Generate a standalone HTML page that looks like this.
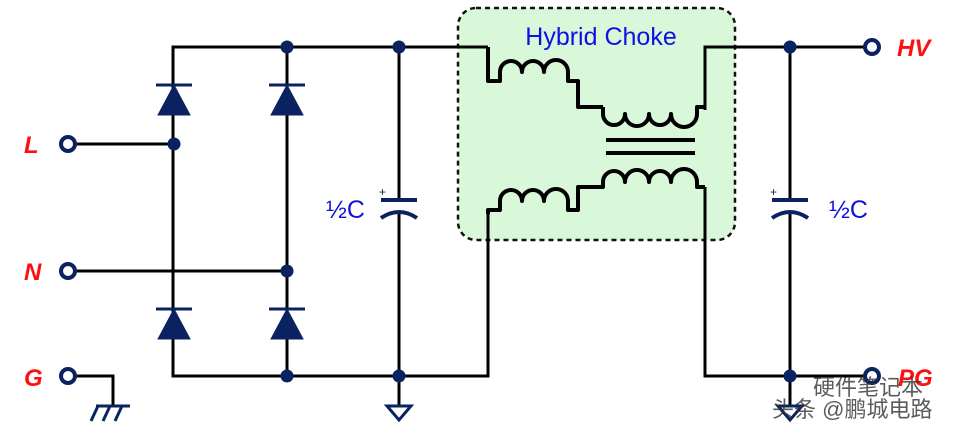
<!DOCTYPE html>
<html><head><meta charset="utf-8"><style>
html,body{margin:0;padding:0;background:#fff;width:962px;height:431px;overflow:hidden}
</style></head><body>
<svg width="962" height="431" viewBox="0 0 962 431" xmlns="http://www.w3.org/2000/svg">
<rect x="458" y="8" width="277" height="232" rx="18" fill="#d9f7d9" stroke="#111" stroke-width="2.5" stroke-dasharray="5,4"/>
<text x="601" y="45" font-family="Liberation Sans, sans-serif" font-size="25" fill="#1010e0" text-anchor="middle">Hybrid Choke</text>
<g fill="none" stroke="#000" stroke-width="3">
<polyline points="173,115 173,47 488,47"/>
<line x1="287" y1="47" x2="287" y2="115"/>
<line x1="173" y1="115" x2="173" y2="339"/>
<line x1="287" y1="115" x2="287" y2="339"/>
<polyline points="173,339 173,376 488,376 488,214"/>
<line x1="287" y1="339" x2="287" y2="376"/>
<line x1="75" y1="144" x2="173" y2="144"/>
<line x1="75" y1="271" x2="287" y2="271"/>
<polyline points="75,376 113,376 113,406"/>
<line x1="399" y1="47" x2="399" y2="200"/>
<line x1="399" y1="212" x2="399" y2="406"/>
<polyline points="705,187 705,376 872,376"/>
<polyline points="705,110 705,47 872,47"/>
<line x1="790" y1="47" x2="790" y2="200"/>
<line x1="790" y1="212" x2="790" y2="406"/>
</g>
<g fill="none" stroke="#000" stroke-width="4" stroke-linejoin="round">
<path d="M488,47 V81 H500 V72 a11,11 0 0 1 22,0 a11,11 0 0 1 22,0 a12,12 0 0 1 24,0 V81 H578 V107 H603"/>
<path d="M603,107 V114 a11,11 0 0 0 22,0 a12,12 0 0 0 24,0 a11,11 0 0 0 22,0 a13,13 0 0 0 26,0 V107 H705"/>
<path d="M488,214 V210 H500 V201 a11,11 0 0 1 22,0 a11,11 0 0 1 22,0 a12,12 0 0 1 24,0 V210 H578 V187 H603 V182 a11,11 0 0 1 22,0 a12,12 0 0 1 24,0 a11,11 0 0 1 22,0 a13,13 0 0 1 26,0 V187 H705"/>
</g>
<g stroke="#000" stroke-width="4"><line x1="606" y1="140" x2="695" y2="140"/><line x1="606" y1="153" x2="695" y2="153"/></g>
<g fill="#0a2260" stroke="#0a2260">
<polygon points="158,115 190,115 174,85"/><line x1="156" y1="85" x2="192" y2="85" stroke-width="3"/>
<polygon points="271,115 303,115 287,85"/><line x1="269" y1="85" x2="305" y2="85" stroke-width="3"/>
<polygon points="158,339 190,339 174,309"/><line x1="156" y1="309" x2="192" y2="309" stroke-width="3"/>
<polygon points="271,339 303,339 287,309"/><line x1="269" y1="309" x2="305" y2="309" stroke-width="3"/>
<circle cx="287" cy="47" r="6"/><circle cx="399" cy="47" r="6"/><circle cx="174" cy="144" r="6"/>
<circle cx="287" cy="271" r="6"/><circle cx="287" cy="376" r="6"/><circle cx="399" cy="376" r="6"/>
<circle cx="790" cy="47" r="6"/><circle cx="790" cy="376" r="6"/>
</g>
<g fill="none" stroke="#0a2260" stroke-width="4">
<line x1="381" y1="200" x2="417" y2="200"/><path d="M381,218 Q399,206 417,218"/>
<line x1="772" y1="200" x2="808" y2="200"/><path d="M772,218 Q790,206 808,218"/>
<polygon points="387,406 411,406 399,420" stroke-width="3"/>
<polygon points="778,406 802,406 790,420" stroke-width="3"/>
<line x1="96" y1="406" x2="130" y2="406" stroke-width="3"/>
<g stroke-width="3"><line x1="98" y1="406" x2="91" y2="421"/><line x1="110" y1="406" x2="103" y2="421"/><line x1="122" y1="406" x2="115" y2="421"/></g>
<g stroke-width="4" fill="#fff"><circle cx="68" cy="144" r="7"/><circle cx="68" cy="271" r="7"/><circle cx="68" cy="376" r="7"/><circle cx="872" cy="47" r="7"/><circle cx="872" cy="376" r="7"/></g>
</g>
<g font-family="Liberation Sans, sans-serif" fill="#0a2260" font-size="12"><text x="379" y="196">+</text><text x="770" y="196">+</text></g>
<g font-family="Liberation Sans, sans-serif" font-size="25" fill="#1010e0"><text x="326" y="218">½C</text><text x="829" y="218">½C</text></g>
<g font-family="Liberation Sans, sans-serif" font-size="24" font-weight="bold" font-style="italic" fill="#ff1010">
<text x="24" y="153">L</text><text x="24" y="280">N</text><text x="24" y="386">G</text><text x="897" y="56">HV</text><text x="898" y="386">PG</text>
</g>
<g font-family="Liberation Sans, 'Noto Sans CJK SC', sans-serif" font-size="22" fill="#333" opacity="0.8">
<text x="813" y="395">硬件笔记本</text><text x="772" y="417">头条 @鹏城电路</text>
</g>
</svg>
</body></html>
